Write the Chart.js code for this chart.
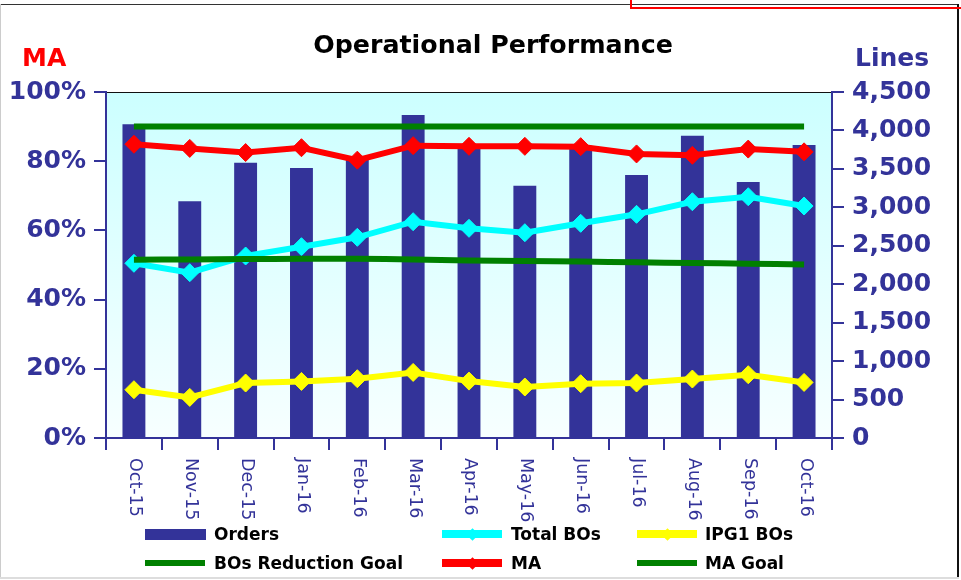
<!DOCTYPE html>
<html>
<head>
<meta charset="utf-8">
<script src="https://cdn.jsdelivr.net/npm/chart.js@4/dist/chart.umd.min.js"></script>
<style>
  html, body { margin:0; padding:0; background:#fff; width:961px; height:580px; overflow:hidden; }
  #wrap { position:relative; width:961px; height:580px; font-family:"DejaVu Sans", sans-serif; }
  canvas { position:absolute; left:0; top:0; }
  .txt { position:absolute; white-space:nowrap; font-weight:bold; }
  .leg { position:absolute; font-size:17px; font-weight:bold; color:#000; line-height:20px; white-space:nowrap; }
  .sw { position:absolute; }
  .dia { position:absolute; width:9px; height:9px; transform:rotate(45deg); }
  .frame { position:absolute; }
</style>
</head>
<body>
<div id="wrap">
  <canvas id="c" width="961" height="580"></canvas>
  <div class="frame" style="left:0;top:4px;width:959px;height:1px;background:#333;"></div>
  <div class="frame" style="left:0;top:4px;width:1px;height:575px;background:#ccc;"></div>
  <div class="frame" style="left:957px;top:4px;width:2px;height:575px;background:#111;"></div>
  <div class="frame" style="left:0;top:577px;width:959px;height:2px;background:#ddd;"></div>
  <div class="frame" style="left:630px;top:0;width:2px;height:9px;background:#f00;"></div>
  <div class="frame" style="left:630px;top:7px;width:331px;height:2px;background:#f00;"></div>

  <div class="txt" id="title" style="left:0;width:986px;text-align:center;top:32px;font-size:25.3px;line-height:25px;color:#000;">Operational Performance</div>
  <div class="txt" style="left:22px;top:45px;font-size:25px;line-height:25px;color:#ff0000;">MA</div>
  <div class="txt" style="left:855px;top:45px;font-size:25px;line-height:25px;color:#333399;">Lines</div>

  <div id="legend"></div>
</div>
<script>
const categories = ['Oct-15','Nov-15','Dec-15','Jan-16','Feb-16','Mar-16','Apr-16','May-16','Jun-16','Jul-16','Aug-16','Sep-16','Oct-16'];
const orders = [4080, 3080, 3580, 3510, 3640, 4200, 3810, 3280, 3800, 3420, 3930, 3330, 3810];
const totalBOs = [2272, 2150, 2367, 2488, 2610, 2813, 2727, 2670, 2792, 2909, 3073, 3138, 3017];
const ipg1BOs = [628, 528, 715, 736, 771, 853, 740, 663, 706, 715, 767, 823, 723];
const bosReductionGoal = [2319, 2323, 2327, 2330, 2332, 2322, 2310, 2302, 2294, 2285, 2276, 2267, 2258];
const maPct = [84.9, 83.7, 82.5, 83.9, 80.3, 84.5, 84.3, 84.3, 84.2, 82.1, 81.7, 83.5, 82.7];
const maGoal = [90, 90, 90, 90, 90, 90, 90, 90, 90, 90, 90, 90, 90];
const leftTicks = [0, 20, 40, 60, 80, 100];
const rightTicks = [0, 500, 1000, 1500, 2000, 2500, 3000, 3500, 4000, 4500];

const NAVY = '#333399';
const tickFont = { family: 'DejaVu Sans', weight: 'bold', size: 25 };

const bgPlugin = {
  id: 'bg',
  beforeDraw(chart) {
    const { ctx, chartArea: a } = chart;
    ctx.save();
    const g = ctx.createLinearGradient(0, a.top, 0, a.bottom);
    g.addColorStop(0, '#ccffff');
    g.addColorStop(1, '#f7ffff');
    ctx.fillStyle = g;
    ctx.fillRect(a.left, a.top, a.right - a.left, a.bottom - a.top);
    ctx.strokeStyle = '#111';
    ctx.lineWidth = 1;
    ctx.beginPath();
    ctx.moveTo(a.left, a.top + 0.5);
    ctx.lineTo(a.right, a.top + 0.5);
    ctx.stroke();
    ctx.restore();
  }
};

const xLabelPlugin = {
  id: 'xlabels',
  afterDraw(chart) {
    const { ctx, scales: { x } } = chart;
    ctx.save();
    ctx.fillStyle = NAVY;
    ctx.font = '17.5px "DejaVu Sans"';
    ctx.textAlign = 'left';
    ctx.textBaseline = 'middle';
    categories.forEach((c, i) => {
      const px = x.getPixelForValue(i);
      ctx.save();
      ctx.translate(px + 1, x.top + 20);
      ctx.rotate(Math.PI / 2);
      ctx.fillText(c, 0, 0);
      ctx.restore();
    });
    ctx.restore();
  }
};

const chart = new Chart(document.getElementById('c'), {
  type: 'bar',
  data: {
    labels: categories,
    datasets: [
      { type: 'line', label: 'MA', data: maPct, yAxisID: 'yL', borderColor: '#ff0000', backgroundColor: '#ff0000',
        borderWidth: 6, pointStyle: 'rectRot', pointRadius: 9, pointBorderWidth: 1, pointBorderColor: '#ff0000', order: 1, tension: 0 },
      { type: 'line', label: 'MA Goal', data: maGoal, yAxisID: 'yL', borderColor: '#008000', backgroundColor: '#008000',
        borderWidth: 6, pointRadius: 0, order: 2, tension: 0 },
      { type: 'line', label: 'BOs Reduction Goal', data: bosReductionGoal, yAxisID: 'yR', borderColor: '#008000', backgroundColor: '#008000',
        borderWidth: 6, pointRadius: 0, order: 2, tension: 0.3 },
      { type: 'line', label: 'Total BOs', data: totalBOs, yAxisID: 'yR', borderColor: '#00ffff', backgroundColor: '#00ffff',
        borderWidth: 6, pointStyle: 'rectRot', pointRadius: 9, pointBorderWidth: 1, pointBorderColor: '#00ffff', order: 3, tension: 0 },
      { type: 'line', label: 'IPG1 BOs', data: ipg1BOs, yAxisID: 'yR', borderColor: '#ffff00', backgroundColor: '#ffff00',
        borderWidth: 6, pointStyle: 'rectRot', pointRadius: 9, pointBorderWidth: 1, pointBorderColor: '#ffff00', order: 3, tension: 0 },
      { type: 'bar', label: 'Orders', data: orders, yAxisID: 'yR', backgroundColor: NAVY, borderWidth: 0,
        barPercentage: 0.41, categoryPercentage: 1, order: 10 }
    ]
  },
  options: {
    responsive: false,
    animation: false,
    devicePixelRatio: 1,
    layout: { padding: { top: 92, left: 0, right: 0, bottom: 0 } },
    plugins: { legend: { display: false }, tooltip: { enabled: false }, title: { display: false } },
    scales: {
      x: {
        type: 'category', offset: true,
        grid: { offset: true, drawOnChartArea: false, drawTicks: true, tickLength: 12, color: NAVY, lineWidth: 2 },
        border: { color: NAVY, width: 2 },
        ticks: { display: false },
        afterFit(s) { s.height = 142; }
      },
      yL: {
        position: 'left', min: 0, max: 100,
        afterBuildTicks(s) { s.ticks = leftTicks.map(v => ({ value: v })); },
        ticks: { callback: v => v + '%', color: NAVY, font: tickFont, padding: 8 },
        grid: { drawOnChartArea: false, tickLength: 12, color: NAVY, lineWidth: 2 },
        border: { color: NAVY, width: 2 },
        afterFit(s) { s.width = 106; }
      },
      yR: {
        position: 'right', min: 0, max: 4500,
        afterBuildTicks(s) { s.ticks = rightTicks.map(v => ({ value: v })); },
        ticks: { callback: v => v.toLocaleString('en-US'), color: NAVY, font: tickFont, padding: 8 },
        grid: { drawOnChartArea: false, tickLength: 12, color: NAVY, lineWidth: 2 },
        border: { color: NAVY, width: 2 },
        afterFit(s) { s.width = 129; }
      }
    }
  },
  plugins: [bgPlugin, xLabelPlugin]
});

// Legend (HTML), colours taken from the chart datasets
const legendLayout = [
  { label: 'Orders', col: 0, row: 0, kind: 'bar' },
  { label: 'Total BOs', col: 1, row: 0, kind: 'marker' },
  { label: 'IPG1 BOs', col: 2, row: 0, kind: 'marker' },
  { label: 'BOs Reduction Goal', col: 0, row: 1, kind: 'line' },
  { label: 'MA', col: 1, row: 1, kind: 'marker' },
  { label: 'MA Goal', col: 2, row: 1, kind: 'line' }
];
const colSwatchX = [145, 442, 637];
const colTextX = [214, 511, 705];
const rowY = [534, 563];
const legEl = document.getElementById('legend');
legendLayout.forEach(item => {
  const ds = chart.data.datasets.find(d => d.label === item.label);
  const color = ds.backgroundColor;
  const sx = colSwatchX[item.col], cy = rowY[item.row];
  let html = '';
  if (item.kind === 'bar') {
    html += `<div class="sw" style="left:${sx}px;top:${cy - 5}px;width:61px;height:11px;background:${color};"></div>`;
  } else if (item.kind === 'line') {
    html += `<div class="sw" style="left:${sx}px;top:${cy - 3}px;width:60px;height:6px;background:${color};"></div>`;
  } else {
    html += `<div class="sw" style="left:${sx}px;top:${cy - 4}px;width:60px;height:8px;background:${color};"></div>`;
    html += `<div class="dia" style="left:${sx + 25.5}px;top:${cy - 4.5}px;background:${color};"></div>`;
  }
  html += `<div class="leg" style="left:${colTextX[item.col]}px;top:${cy - 10}px;">${item.label}</div>`;
  legEl.insertAdjacentHTML('beforeend', html);
});
</script>
</body>
</html>
